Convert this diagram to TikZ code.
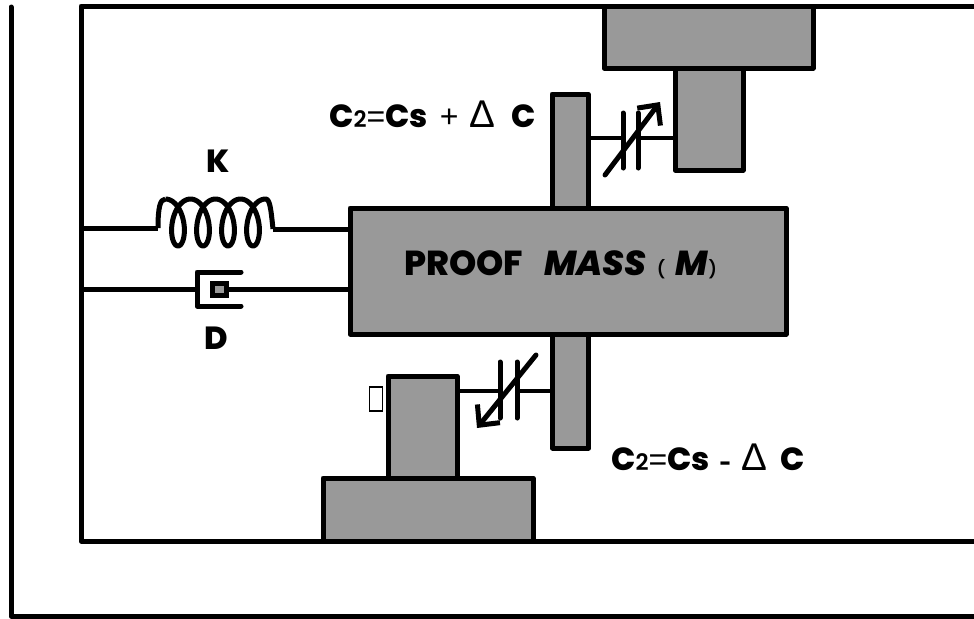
\documentclass[tikz,border=0pt]{standalone}
\usepackage{fontspec}
\setmainfont{Poppins}[BoldFont = {Poppins ExtraBold}, BoldItalicFont = {Poppins ExtraBold Italic}]
\newfontfamily\thinfont{Liberation Sans}
\newfontfamily\subfont{Poppins SemiBold}
\usetikzlibrary{arrows.meta}
\definecolor{massgray}{HTML}{999999}
\def\px{0.75pt}
\tikzset{
    frameline/.style = {line width = 5*\px, line join = round, line cap = round},
    wire/.style = {line width = 4*\px},
    heavy wire/.style = {line width = 5*\px, line join = round},
    block/.style = {draw, fill = massgray, line width = 5*\px, inner sep = 0pt, line join = round},
    capplate/.style = {line width = 5*\px, line cap = round},
    caparrow/.style = {line width = 5*\px, line cap = round, line join = round, -{Straight Barb[length = 15*\px, width = 29*\px, line width = 5*\px]}},
    bold label/.style = {font = \fontsize{24}{28}\selectfont\bfseries, inner sep = 0pt}
}
\newcommand{\thinsym}[1]{{\thinfont\mdseries #1}}
\newcommand{\bigdelta}{{\thinfont\mdseries\fontsize{29}{30}\selectfont Δ}}
\newcommand{\subtwo}{{\subfont\mdseries\fontsize{17}{20}\selectfont 2}}
\newcommand{\smallsym}[1]{{\subfont\mdseries\fontsize{13}{14}\selectfont #1}}
\begin{document}
\begin{tikzpicture}[x = 0.75pt, y = -0.75pt, domain = -3.14:22, samples = 200]
    \useasboundingbox (0,0) rectangle (974,618);

    % frames
    \draw[frameline] (11,7) -- (11,616) -- (980,616);
    \draw[frameline] (980,6) -- (81,6) -- (81,541) -- (980,541);

    % upper fixed electrode
    \node[block, minimum width = 68*\px, minimum height = 102*\px] (upperpost) at (709,119) {};
    \node[block, minimum width = 209*\px, minimum height = 62*\px] (upperbase) at (708.5,37) {};
    \node[block, minimum width = 36*\px, minimum height = 114*\px] (upperplate) at (570,151) {};

    % lower fixed electrode
    \node[block, minimum width = 36*\px, minimum height = 114*\px] (lowerplate) at (570.5,391) {};
    \node[block, minimum width = 69*\px, minimum height = 102*\px] (lowerpost) at (422.5,427) {};
    \node[block, minimum width = 210*\px, minimum height = 63*\px] (lowerbase) at (428,509.5) {};

    % mass
    \node[block, minimum width = 436*\px, minimum height = 126*\px] (mass) at (568,271) {};
    \node[bold label, font = \fontsize{26}{30}\selectfont\bfseries, anchor = base west] (masstext) at (404,275)
        {PROOF\hspace{0.6em}\textit{MASS}\hspace{0.3em}\smallsym{(}\hspace{0.3em}\textit{M}\smallsym{)}};

    % spring
    \coordinate (springL) at (158,228);
    \coordinate (springR) at (273,229);
    \draw[heavy wire] (81,228) -- (springL);
    \draw[heavy wire] (springR) -- (springR -| mass.west);
    \draw[heavy wire] (springL) .. controls (158,208) and (160,199) .. (165.4,199)
        plot ({178 + 3.98*\x - 12*sin(\x r)}, {222.5 + 23.5*cos(\x r)})
        .. controls (270,199) and (271,210) .. (springR);
    \node[bold label, anchor = base] (klabel) at (218,172) {K};

    % damper
    \coordinate (damperL) at (197,289);
    \node[draw, fill = massgray, line width = 5*\px, minimum width = 14*\px, minimum height = 12*\px, inner sep = 0pt] (piston) at (219,289.5) {};
    \draw[heavy wire, line cap = round] (241,272) -- (197,272) -- (197,306) -- (241,306);
    \draw[heavy wire] (81,289) -- (damperL);
    \draw[heavy wire] (piston.east) -- (piston.east -| mass.west);
    \node[bold label, anchor = base] (dlabel) at (216,349) {D};

    % upper capacitor
    \coordinate (capupA) at (623,138);
    \coordinate (capupB) at (638,138);
    \draw[wire] (upperplate.east |- capupA) -- (capupA);
    \draw[wire] (capupB) -- (capupB -| upperpost.west);
    \draw[capplate] (623,113) -- (623,168);
    \draw[capplate] (638,113) -- (638,168);
    \draw[caparrow] (605,175) -- (660,102);

    % lower capacitor
    \coordinate (capdownA) at (500,391);
    \coordinate (capdownB) at (517,391);
    \draw[wire] (lowerpost.east |- capdownA) -- (capdownA);
    \draw[wire] (capdownB) -- (capdownB -| lowerplate.west);
    \draw[capplate] (500,362) -- (500,418);
    \draw[capplate] (517,362) -- (517,418);
    \draw[caparrow] (536,355) -- (477,428);

    % labels
    \node[bold label, anchor = base west] (cuptext) at (329,127)
        {C\subtwo\thinsym{=}Cs\hspace{0.38em}\thinsym{+}\hspace{0.35em}\bigdelta\hspace{0.49em}C};
    \node[bold label, anchor = base west] (cdowntext) at (611,470)
        {C\subtwo\thinsym{=}Cs\hspace{0.32em}{\fontsize{15}{16}\selectfont -}\hspace{0.32em}\bigdelta\hspace{0.42em}C};
    \node[draw, line width = 1.5*\px, minimum width = 13*\px, minimum height = 24*\px, inner sep = 0pt] (missingglyph) at (376,399) {};
\end{tikzpicture}
\end{document}
